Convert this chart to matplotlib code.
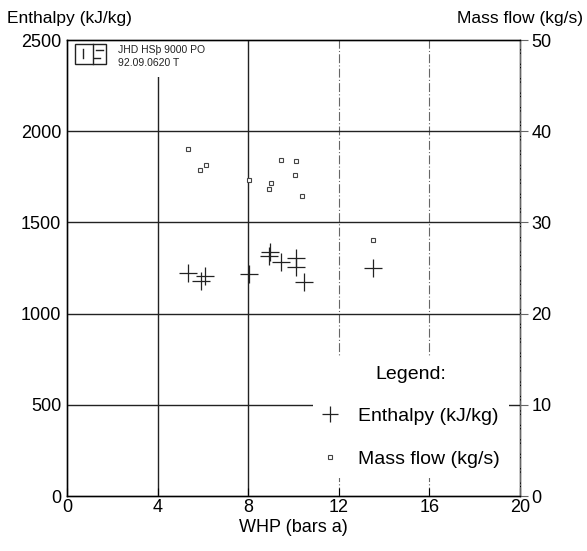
import matplotlib.pyplot as plt
from matplotlib.lines import Line2D
from matplotlib.patches import Rectangle

plt.rcParams['font.family'] = ['Liberation Sans', 'DejaVu Sans']

# well-head pressure (bars a) and enthalpy (kJ/kg)
whp_h = [5.35, 6.1, 5.9, 8.05, 8.95, 8.9, 9.45, 10.1, 10.1, 10.45, 13.5]
enthalpy = [1225, 1205, 1178, 1218, 1338, 1318, 1285, 1305, 1255, 1175, 1250]

# well-head pressure (bars a) and mass flow (kg/s)
whp_m = [5.33, 6.12, 5.87, 8.05, 9.45, 10.1, 10.07, 8.99, 8.92, 10.39, 13.5]
massflow = [38.0, 36.3, 35.7, 34.6, 36.8, 36.7, 35.2, 34.3, 33.7, 32.9, 28.1]

xticks = [0, 4, 8, 12, 16, 20]

fig = plt.figure(figsize=(5.87, 5.51), dpi=100)
ax = fig.add_axes([0.114, 0.0998, 0.772, 0.8276])
ax2 = ax.twinx()

ax.set_xlim(0, 20)
ax.set_ylim(0, 2500)
ax2.set_ylim(0, 50)
ax.set_xticks(xticks)
ax.set_yticks([0, 500, 1000, 1500, 2000, 2500])
ax2.set_yticks([0, 10, 20, 30, 40, 50])

dashdot = (0, (8, 2, 1, 2))

# grid: solid at 4 and 8, dash-dot further right
for x in [4, 8]:
    ax.axvline(x, color='#222222', lw=1.0, zorder=1)
for x in [12, 16]:
    ax.axvline(x, color='#666666', lw=0.8, ls=dashdot, zorder=1)
for y in [500, 1000, 1500, 2000]:
    ax.axhline(y, color='#222222', lw=1.0, zorder=1)

for s in ['left', 'bottom', 'top']:
    ax.spines[s].set_color('#444444')
ax2.spines['right'].set_linestyle(dashdot)
ax2.spines['right'].set_color('#666666')
for a in (ax, ax2):
    for s in a.spines.values():
        s.set_linewidth(1.0)
ax2.spines['right'].set_linewidth(0.8)

ax.tick_params(axis='x', direction='in', length=6, labelsize=13, pad=2)
ax.tick_params(axis='y', direction='out', length=0, labelsize=13, pad=4)
ax2.tick_params(axis='y', direction='out', length=6, labelsize=13, pad=2,
                color='#666666')
ax.set_xlabel('WHP (bars a)', fontsize=13, labelpad=2)

fig.text(0.012, 0.98, 'Enthalpy (kJ/kg)', fontsize=12.5, va='top', ha='left')
fig.text(0.993, 0.98, 'Mass flow (kg/s)', fontsize=12.5, va='top', ha='right')

ax.plot(whp_h, enthalpy, ls='none', marker='+', ms=12.5, mew=0.9,
        color='#222222', zorder=3)
ax2.plot(whp_m, massflow, ls='none', marker='s', ms=3.5, mew=0.8,
         mfc='white', mec='#444444', zorder=3)

# header box with logo
ax.add_patch(Rectangle((0, 0.919), 0.33, 0.081, transform=ax.transAxes,
                       facecolor='white', edgecolor='none', zorder=2))
fig.add_artist(Rectangle((75 / 587, 1 - 64 / 551), 31 / 587, 20 / 551,
                         fill=False, edgecolor='#222222', lw=1.0))
fig.add_artist(Line2D([93 / 587, 93 / 587], [1 - 44 / 551, 1 - 64 / 551],
                      color='#222222', lw=1.0))
fig.add_artist(Line2D([83 / 587, 83 / 587], [1 - 49 / 551, 1 - 58 / 551],
                      color='#222222', lw=1.0))
fig.add_artist(Line2D([96 / 587, 103 / 587], [1 - 50 / 551, 1 - 50 / 551],
                      color='#222222', lw=1.0))
fig.add_artist(Line2D([94 / 587, 100 / 587], [1 - 58 / 551, 1 - 58 / 551],
                      color='#222222', lw=1.0))
fig.text(118 / 587, 1 - 53 / 551, 'JHD HSþ 9000 PO', fontsize=7.5,
         ha='left', va='baseline', color='#222222')
fig.text(118 / 587, 1 - 66 / 551, '92.09.0620 T', fontsize=7.5,
         ha='left', va='baseline', color='#222222')

handles = [Line2D([], [], ls='none', marker='+', ms=12, mew=0.9, color='#222222'),
           Line2D([], [], ls='none', marker='s', ms=3.5, mew=0.8,
                  mfc='white', mec='#444444')]
leg = ax2.legend(handles, ['Enthalpy (kJ/kg)', 'Mass flow (kg/s)'],
                 title='Legend:', loc='lower left',
                 bbox_to_anchor=(0.543, 0.022), borderaxespad=0,
                 fontsize=14, title_fontsize=14, frameon=True,
                 facecolor='white', edgecolor='none', framealpha=1,
                 labelspacing=1.3, handlelength=0.8, handletextpad=1.0,
                 borderpad=0.5)
leg.get_frame().set_boxstyle('square', pad=0)
# a little extra white space below the entries, as in the original
leg.get_frame().set_boxstyle('square', pad=0)
leg._legend_box.sep = 18
leg.set_bbox_to_anchor((0.543, 0.040), transform=ax2.transAxes)

fig.savefig('out.png', dpi=100)
